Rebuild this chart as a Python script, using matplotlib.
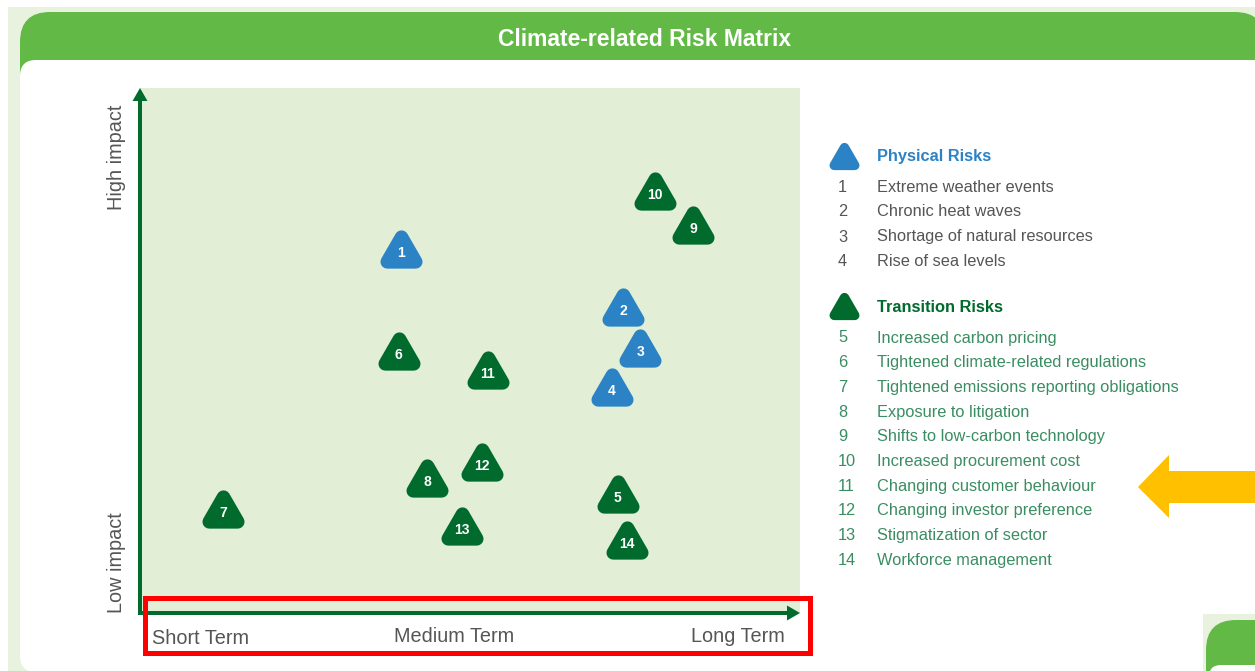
import matplotlib
matplotlib.use("Agg")
import matplotlib.pyplot as plt
from matplotlib.markers import MarkerStyle
from matplotlib.path import Path
from matplotlib.patches import Rectangle, FancyBboxPatch, Polygon

plt.rcParams["font.family"] = ["Liberation Sans", "DejaVu Sans"]

# risk positions on the matrix: term 0 (short) .. 10 (long), impact 0 (low) .. 10 (high)
risk_ids = [1, 2, 3, 4, 5, 6, 7, 8, 9, 10, 11, 12, 13, 14]
risk_kind = ["physical"] * 4 + ["transition"] * 10
term_score = [3.95, 7.32, 7.58, 7.15, 7.24, 3.92, 1.26, 4.35, 8.38, 7.80, 5.27, 5.18, 4.88, 7.38]
impact_score = [6.93, 5.83, 5.05, 4.30, 2.27, 4.99, 1.98, 2.57, 7.39, 8.04, 4.63, 2.88, 1.66, 1.39]

physical_names = [
    "Extreme weather events",
    "Chronic heat waves",
    "Shortage of natural resources",
    "Rise of sea levels",
]
transition_names = [
    "Increased carbon pricing",
    "Tightened climate-related regulations",
    "Tightened emissions reporting obligations",
    "Exposure to litigation",
    "Shifts to low-carbon technology",
    "Increased procurement cost",
    "Changing customer behaviour",
    "Changing investor preference",
    "Stigmatization of sector",
    "Workforce management",
]
term_labels = ["Short Term", "Medium Term", "Long Term"]
impact_labels = ["High impact", "Low impact"]

BLUE = "#2b83c6"
DARK_GREEN = "#006b2d"
HEADER_GREEN = "#62b946"
PALE = "#e9f2de"
MATRIX_BG = "#e2efd6"
GREY = "#555555"
ITEM_GREEN = "#3a8d62"
kind_color = {"physical": BLUE, "transition": DARK_GREEN}

W, H = 1255, 671
fig = plt.figure(figsize=(W / 100, H / 100), dpi=100)

# page furniture in pixel coordinates
bg = fig.add_axes([0, 0, 1, 1], zorder=0)
bg.set_xlim(0, W)
bg.set_ylim(H, 0)
bg.axis("off")
bg.add_patch(Rectangle((8, 7), W, H, color=PALE, lw=0))
bg.add_patch(FancyBboxPatch((20, 12), 1245, 100, boxstyle="round,pad=0,rounding_size=30",
                            color=HEADER_GREEN, lw=0))
bg.add_patch(FancyBboxPatch((20, 60), 1300, 612, boxstyle="round,pad=0,rounding_size=16",
                            color="white", lw=0))
bg.text(645, 39, "Climate-related Risk Matrix", color="white", fontsize=16.5,
        fontweight="bold", ha="center", va="center")

# rounded triangle marker
tri = Path([(0, 0.433), (-0.5, -0.433), (0.5, -0.433), (0, 0.433)],
           [Path.MOVETO, Path.LINETO, Path.LINETO, Path.CLOSEPOLY])
tri_marker = MarkerStyle(tri, joinstyle="round")

# risk matrix
ax = fig.add_axes([140 / W, (H - 613) / H, 660 / W, 525 / H], zorder=1)
ax.set_facecolor(MATRIX_BG)
ax.set_xlim(0, 10)
ax.set_ylim(0, 10)
for s in ax.spines.values():
    s.set_visible(False)
ax.set_xticks([])
ax.set_yticks([])

for rid, kind, x, y in zip(risk_ids, risk_kind, term_score, impact_score):
    c = kind_color[kind]
    ax.plot(x, y, marker=tri_marker, ms=20.5, mew=9.8, mfc=c, mec=c, ls="none")
    ax.annotate(str(rid), (x, y), xytext=(0, -3), textcoords="offset points",
                ha="center", va="center", color="white", fontsize=10, fontweight="bold")

# overlay: axis arrows, labels, legend, highlights
top = fig.add_axes([0, 0, 1, 1], zorder=2)
top.set_xlim(0, W)
top.set_ylim(H, 0)
top.axis("off")
top.patch.set_alpha(0)

top.arrow(140, 615, 0, -527, width=4, head_width=15, head_length=13,
          length_includes_head=True, color=DARK_GREEN, lw=0)
top.arrow(138, 613, 662, 0, width=4, head_width=15, head_length=13,
          length_includes_head=True, color=DARK_GREEN, lw=0)

top.text(117, 157, impact_labels[0], rotation=90, ha="center", va="center",
         color=GREY, fontsize=14.3)
top.text(117, 563, impact_labels[1], rotation=90, ha="center", va="center",
         color=GREY, fontsize=14.3)
top.text(152, 638, term_labels[0], ha="left", va="center", color=GREY, fontsize=14.3)
top.text(454, 637, term_labels[1], ha="center", va="center", color=GREY, fontsize=14.3)
top.text(785, 636, term_labels[2], ha="right", va="center", color=GREY, fontsize=14.3)

top.add_patch(Rectangle((144.5, 597.5), 665, 55, fill=False, ec="#ff0000", lw=3.6))

# legend
top.plot(844, 155.5, marker=tri_marker, ms=14.8, mew=6.8, mfc=BLUE, mec=BLUE, ls="none")
top.text(877, 157, "Physical Risks", color=BLUE, fontsize=11.8, fontweight="bold", va="center")
for i, name in enumerate(physical_names):
    yy = 187 + 25 * i
    top.text(838, yy, str(i + 1), color=GREY, fontsize=11.8, va="center")
    top.text(877, yy, name, color=GREY, fontsize=11.8, va="center")

top.plot(844, 305.5, marker=tri_marker, ms=14.8, mew=6.8, mfc=DARK_GREEN, mec=DARK_GREEN, ls="none")
top.text(877, 307, "Transition Risks", color=DARK_GREEN, fontsize=11.8, fontweight="bold", va="center")
for i, name in enumerate(transition_names):
    yy = 338 + 24.67 * i
    top.text(838, yy, str(i + 5), color=ITEM_GREEN, fontsize=11.8, va="center")
    top.text(877, yy, name, color=ITEM_GREEN, fontsize=11.8, va="center")

top.add_patch(Polygon([(1138, 487), (1169, 455), (1169, 471), (1260, 471),
                       (1260, 503), (1169, 503), (1169, 518)], closed=True,
                      color="#ffc000", lw=0))

# corner of the next panel
top.add_patch(Rectangle((1203, 614), 60, 60, color=PALE, lw=0))
top.add_patch(FancyBboxPatch((1206, 620), 100, 100, boxstyle="round,pad=0,rounding_size=30",
                             color=HEADER_GREEN, lw=0))
top.add_patch(FancyBboxPatch((1209, 665), 100, 50, boxstyle="round,pad=0,rounding_size=12",
                             color="white", lw=0))

fig.savefig("out.png", dpi=100)
